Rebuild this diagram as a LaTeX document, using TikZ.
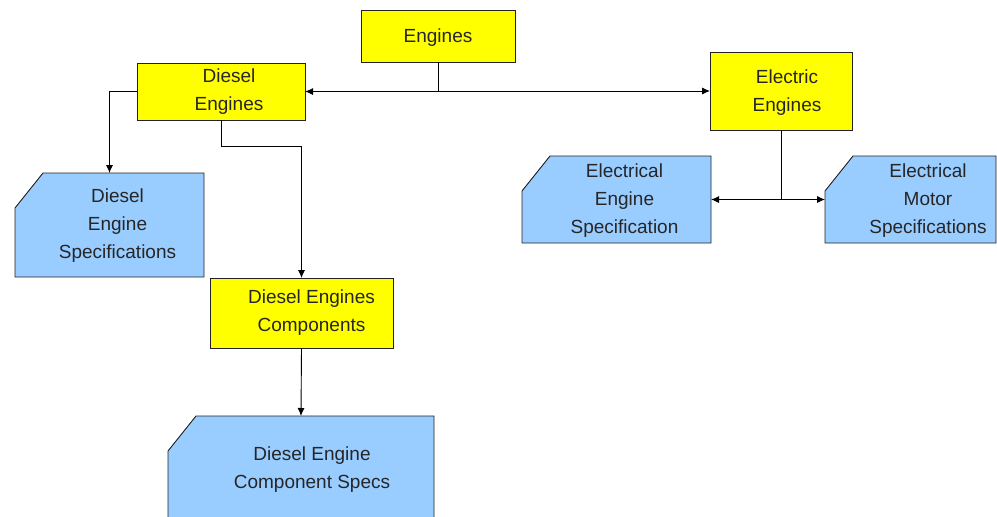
\documentclass[tikz,border=0pt]{standalone}
\usepackage{fontspec}
\setmainfont{Liberation Sans}
\usetikzlibrary{arrows.meta,calc}
\definecolor{specblue}{HTML}{99CCFF}
\definecolor{boxyellow}{HTML}{FFFF00}
\definecolor{edge}{HTML}{222222}
\newcommand\cutshape[1]{\filldraw[specshape] ($(#1.north west)+(28,0)$) -- (#1.north east) -- (#1.south east) -- (#1.south west) -- ($(#1.north west)+(0,35)$) -- cycle;}
\begin{document}
\begin{tikzpicture}[x=1pt,y=-1pt,
  area/.style={inner sep=0pt, outer sep=0pt, anchor=north west},
  ybox/.style={area, draw=edge, fill=boxyellow, line width=0.9pt},
  bbox/.style={area},
  specshape/.style={draw=edge, fill=specblue, line width=0.9pt},
  lbl/.style={font=\fontsize{19}{28}\selectfont, align=center, anchor=base, inner sep=0pt, text=black!85},
  conn/.style={line width=0.9pt, draw=black, -{Latex[length=8pt,width=7pt]}}]
\useasboundingbox (0,0) rectangle (997,517);
\clip (0,0) rectangle (997,517);
\fill[white] (0,0) rectangle (997,517);
% yellow boxes
\node[ybox, minimum width=154pt, minimum height=52pt] (eng) at (361,10) {};
\node[ybox, minimum width=168pt, minimum height=57pt] (dies) at (137,63) {};
\node[ybox, minimum width=142pt, minimum height=78pt] (elec) at (710,52) {};
\node[ybox, minimum width=183pt, minimum height=70pt] (comp) at (210,278) {};
% blue cut-corner boxes
\node[bbox, minimum width=189pt, minimum height=104pt] (dspec) at (15,173) {};
\cutshape{dspec}
\node[bbox, minimum width=189pt, minimum height=87pt] (espec) at (522,156) {};
\cutshape{espec}
\node[bbox, minimum width=171pt, minimum height=87pt] (mspec) at (825,156) {};
\cutshape{mspec}
\node[bbox, minimum width=266pt, minimum height=114pt] (cspec) at (168,416) {};
\cutshape{cspec}
% labels (anchor = baseline of last line)
\node[lbl] (tEng) at (438,42) {Engines};
\node[lbl] (tDies) at (229,110) {Diesel\\Engines};
\node[lbl] (tElec) at (787,111) {Electric\\Engines};
\node[lbl] (tDspec) at (117.5,258) {Diesel\\Engine\\Specifications};
\node[lbl] (tEspec) at (624.5,233) {Electrical\\Engine\\Specification};
\node[lbl] (tMspec) at (928,233) {Electrical\\Motor\\Specifications};
\node[lbl] (tComp) at (311.5,331) {Diesel Engines\\Components};
\node[lbl] (tCspec) at (312,488) {Diesel Engine\\Component Specs};
% connectors
\draw[conn] (eng.south) |- (dies.east);
\draw[conn] (eng.south) |- (elec.west);
\draw[conn] (dies.west) -| (dspec.north);
\draw[conn] (dies.south) -- ++(0,26) coordinate (dbend) -| (comp.north);
\draw[conn] (comp.south) -- (cspec.north);
\draw[conn] (elec.south) |- (espec.east);
\draw[conn] (elec.south) |- (mspec.west);
\end{tikzpicture}
\end{document}
